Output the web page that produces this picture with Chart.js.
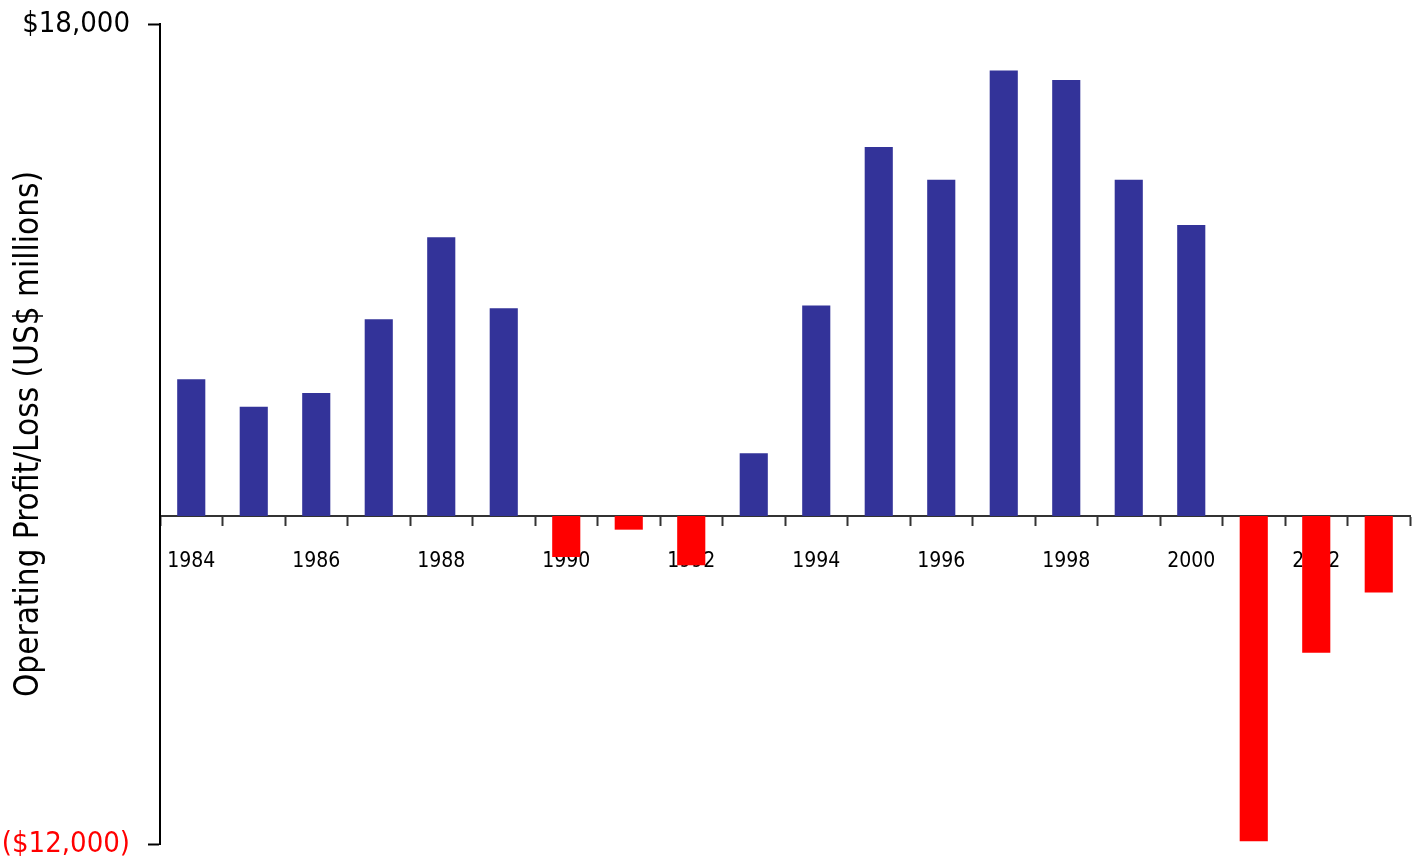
<!DOCTYPE html>
<html>
<head>
<meta charset="utf-8">
<script src="https://cdn.jsdelivr.net/npm/chart.js@4"></script>
<style>
  html, body { margin: 0; padding: 0; background: #fff; }
  #wrap { width: 1412px; height: 868px; position: relative; }
</style>
</head>
<body>
<div id="wrap"><canvas id="profitChart"></canvas></div>
<script>
// Years along the x axis
const years = ['1984', '1985', '1986', '1987', '1988', '1989', '1990', '1991', '1992', '1993',
               '1994', '1995', '1996', '1997', '1998', '1999', '2000', '2001', '2002', '2003'];

// Operating profit/loss, US$ millions
const profitLoss = [5000, 4000, 4500, 7200, 10200, 7600, -1500, -500, -1800, 2300,
                    7700, 13500, 12300, 16300, 15950, 12300, 10650, -11900, -5000, -2800];

// Only the two end values are labelled on the y axis
const yTicks = [-12000, 18000];
const yTickLabels = ['($12,000)', '$18,000'];

const FONT = "'DejaVu Sans Condensed', 'Liberation Sans Narrow', sans-serif";

document.addEventListener('DOMContentLoaded', function() {
    const ctx = document.getElementById('profitChart').getContext('2d');
    new Chart(ctx, {
        type: 'bar',
        data: {
            labels: years,
            datasets: [{
                label: 'Operating Profit/Loss',
                data: profitLoss,
                backgroundColor: profitLoss.map(v => v < 0 ? '#ff0000' : '#333399'),
                borderWidth: 0,
                barPercentage: 0.9,
                categoryPercentage: 0.5
            }]
        },
        options: {
            responsive: true,
            maintainAspectRatio: false,
            animation: false,
            layout: {
                padding: { top: 24, right: 2, bottom: 24, left: 0 }
            },
            plugins: {
                legend: { display: false },
                tooltip: { enabled: false }
            },
            scales: {
                x: {
                    position: { y: 0 },
                    z: 1,
                    offset: true,
                    grid: {
                        offset: true,
                        drawOnChartArea: false,
                        drawTicks: true,
                        tickLength: 9,
                        tickWidth: 2,
                        color: '#333333'
                    },
                    border: { display: true, color: '#333333', width: 2 },
                    ticks: {
                        autoSkip: false,
                        maxRotation: 0,
                        padding: 24,
                        color: '#000000',
                        font: { family: FONT, size: 21 },
                        callback: function(val, i) {
                            return i % 2 === 0 ? this.getLabelForValue(val) : '';
                        }
                    }
                },
                y: {
                    min: -12000,
                    max: 18000,
                    afterBuildTicks: function(scale) {
                        scale.ticks = yTicks.map(v => ({ value: v }));
                    },
                    afterFit: function(scale) {
                        scale.width = 160;
                        scale.paddingTop = 0;
                        scale.paddingBottom = 0;
                    },
                    grid: {
                        drawOnChartArea: false,
                        drawTicks: true,
                        tickLength: 12,
                        tickWidth: 2,
                        color: '#000000'
                    },
                    border: { display: true, color: '#000000', width: 2 },
                    ticks: {
                        padding: 18,
                        font: { family: FONT, size: 29 },
                        color: function(c) {
                            return c.tick && c.tick.value < 0 ? '#ff0000' : '#000000';
                        },
                        callback: function(val) {
                            const i = yTicks.indexOf(val);
                            return i >= 0 ? yTickLabels[i] : '';
                        }
                    },
                    title: {
                        display: true,
                        text: 'Operating Profit/Loss (US$ millions)',
                        color: '#000000',
                        font: { family: FONT, size: 33 },
                        padding: { top: 10, bottom: 0 }
                    }
                }
            }
        }
    });
});
</script>
</body>
</html>
